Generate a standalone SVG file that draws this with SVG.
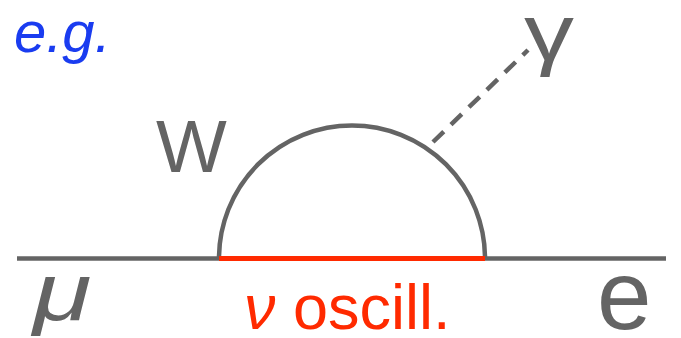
<svg xmlns="http://www.w3.org/2000/svg" width="681" height="338" viewBox="0 0 681 338">
<style>
.g{fill:#646464;font-family:"Liberation Sans",Arial,sans-serif}
.ln{fill:none;stroke:#646464;stroke-width:4.5}
</style>
<rect width="681" height="338" fill="#fff"/>
<g id="connectors">
<line class="ln" x1="17" y1="258.5" x2="666" y2="258.5"/>
<path class="ln" d="M219,258.5 A133,133 0 0 1 485,258.5" stroke-width="4"/>
<line x1="219" y1="258.5" x2="485" y2="258.5" stroke="#ff2a00" stroke-width="5"/>
<line x1="433" y1="142" x2="528" y2="50" stroke="#646464" stroke-width="4.5" stroke-dasharray="15,10"/>
</g>
<g id="label-eg"><text x="14" y="52" font-family="Liberation Sans,Arial,sans-serif" font-style="italic" font-size="58" fill="#1a3cf0">e.g.</text></g>
<g id="label-W"><text class="g" x="156" y="172" font-size="75">W</text></g>
<g id="label-gamma"><text class="g" transform="translate(524,60) scale(1.25,1)" font-size="80">γ</text></g>
<g id="label-mu"><text class="g" transform="translate(33,320) scale(1.3,1)" font-size="82" font-style="italic">μ</text></g>
<g id="label-nu"><text x="244" y="329" font-family="Liberation Sans,Arial,sans-serif" font-size="63" fill="#ff2a00"><tspan font-style="italic">ν</tspan> oscill.</text></g>
<g id="label-e"><text class="g" x="597" y="329" font-size="98">e</text></g>
</svg>
